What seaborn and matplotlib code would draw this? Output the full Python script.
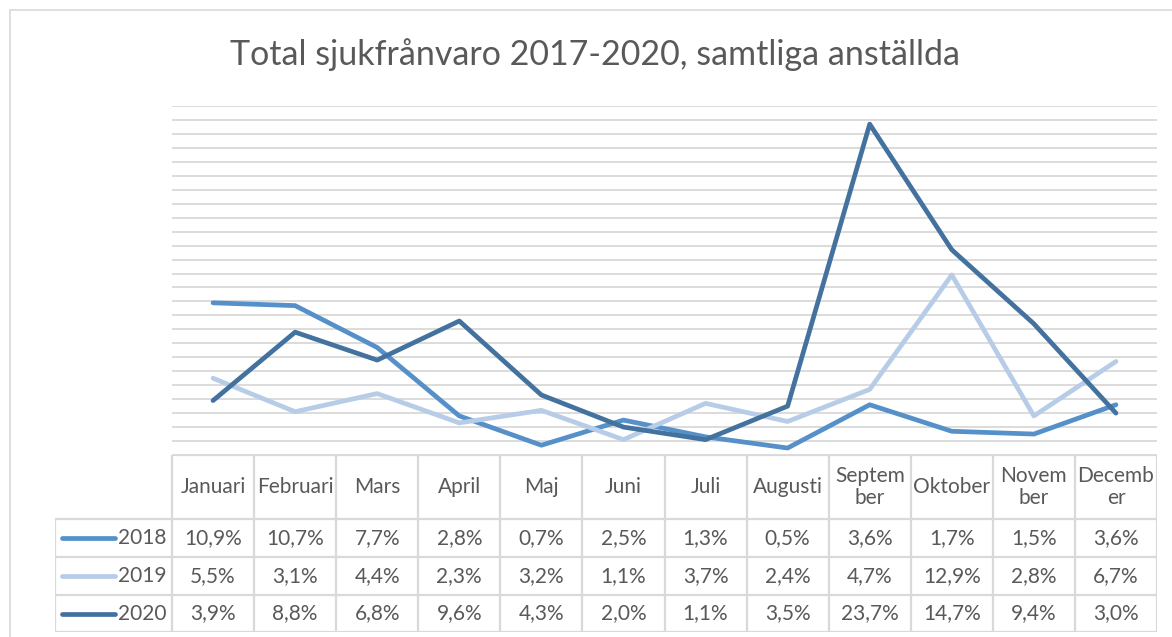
import matplotlib
matplotlib.use("Agg")
import matplotlib.pyplot as plt
import seaborn as sns
import pandas as pd
import numpy as np
from matplotlib.patches import Rectangle

months = ["Januari", "Februari", "Mars", "April", "Maj", "Juni", "Juli",
          "Augusti", "September", "Oktober", "November", "December"]
month_labels = ["Januari", "Februari", "Mars", "April", "Maj", "Juni", "Juli",
                "Augusti", "Septem\nber", "Oktober", "Novem\nber", "Decemb\ner"]
years = ["2018", "2019", "2020"]
v2018 = [10.9, 10.7, 7.7, 2.8, 0.7, 2.5, 1.3, 0.5, 3.6, 1.7, 1.5, 3.6]
v2019 = [5.5, 3.1, 4.4, 2.3, 3.2, 1.1, 3.7, 2.4, 4.7, 12.9, 2.8, 6.7]
v2020 = [3.9, 8.8, 6.8, 9.6, 4.3, 2.0, 1.1, 3.5, 23.7, 14.7, 9.4, 3.0]
title = "Total sjukfrånvaro 2017-2020, samtliga anställda"

colors = {"2018": "#5590C9", "2019": "#B7CCE7", "2020": "#44729F"}
text_color = "#595959"
grid_color = "#D9D9D9"

series = {"2018": v2018, "2019": v2019, "2020": v2020}
df = pd.DataFrame([
    {"month": i, "year": y, "value": v}
    for y in years for i, v in enumerate(series[y])
])

sns.set_theme(style="white")
plt.rcParams["font.family"] = ["Lato", "DejaVu Sans"]

W, H = 1172, 637
fig = plt.figure(figsize=(W / 100, H / 100), dpi=100)

def fx(px):
    return px / W

def fy(py):
    return 1 - py / H

# outer chart border
fig.patches.append(Rectangle((fx(10), fy(645)), fx(1200) - fx(10), fy(10) - fy(645),
                             transform=fig.transFigure, fill=False,
                             edgecolor=grid_color, lw=1.2))

# plot axes
L, R, T, B = 172, 1157, 106, 455
ax = fig.add_axes([fx(L), fy(B), fx(R) - fx(L), fy(T) - fy(B)])
sns.lineplot(data=df, x="month", y="value", hue="year", palette=colors,
             lw=3.4, ax=ax, legend=False, solid_capstyle="round",
             solid_joinstyle="round")
ax.set_xlim(-0.5, 11.5)
ax.set_ylim(0, 25)
ax.set_yticks(np.arange(0, 26, 1))
ax.yaxis.grid(True, color=grid_color, lw=1.3)
ax.set_axisbelow(True)
ax.set_xticks([])
ax.tick_params(left=False, labelleft=False)
ax.set_xlabel("")
ax.set_ylabel("")
for s in ax.spines.values():
    s.set_visible(False)

fig.text(fx(595), fy(65), title, ha="center", va="baseline",
         fontsize=24.5, color=text_color)

# data table axes
col_w = (R - L) / 12
leg_left = 55
tL, tT, tB = leg_left, B, 632
tax = fig.add_axes([fx(tL), fy(tB), fx(R) - fx(tL), fy(tT) - fy(tB)])
tax.set_xlim(-0.5 - (L - leg_left) / col_w, 11.5)
tax.set_ylim(tB, tT)
tax.axis("off")
header_bottom = 519
row_edges = [519, 557, 595, 632]
lw_t = 1.6
x0 = -0.5
x_leg = -0.5 - (L - leg_left) / col_w
tax.plot([x0, 11.5], [tT, tT], color=grid_color, lw=lw_t)
for yy in row_edges:
    tax.plot([x_leg, 11.5], [yy, yy], color=grid_color, lw=lw_t)
for k in range(13):
    tax.plot([x0 + k, x0 + k], [tT, tB], color=grid_color, lw=lw_t)
tax.plot([x_leg, x_leg], [header_bottom, tB], color=grid_color, lw=lw_t)

fs = 15
for i, lab in enumerate(month_labels):
    tax.text(i, (tT + header_bottom) / 2, lab, ha="center", va="center",
             fontsize=fs, color=text_color, linespacing=1.15)
for r, y in enumerate(years):
    yc = (row_edges[r] + row_edges[r + 1]) / 2
    for i, v in enumerate(series[y]):
        tax.text(i, yc, f"{v:.1f}%".replace(".", ","), ha="center", va="center",
                 fontsize=fs, color=text_color)
    lx0 = x_leg + (62 - leg_left) / col_w
    lx1 = x_leg + (115 - leg_left) / col_w
    tax.plot([lx0, lx1], [yc, yc], color=colors[y], lw=3.4, solid_capstyle="round")
    tax.text(x0 - 0.07, yc, y, ha="right", va="center", fontsize=fs, color=text_color)

fig.savefig("out.png", dpi=100)
